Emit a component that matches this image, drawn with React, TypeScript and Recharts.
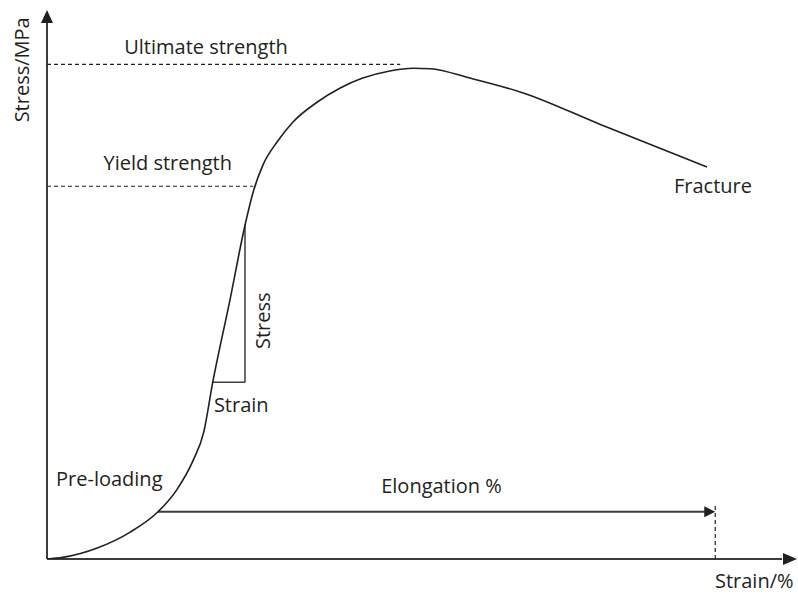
import React from 'react';
import { ComposedChart, Line, XAxis, YAxis, ReferenceLine, ReferenceDot } from 'recharts';

// stress-strain curve (arbitrary units 0-100 on both axes)
const strain = [0, 2.1, 6.7, 11.1, 14.8, 17.3, 19.5, 20.9, 22.1, 24.4, 26.4, 27.5, 28.8, 30.7, 32.8, 36.0, 39.1, 42.1, 45.7, 48.8, 51.1, 56.4, 63.5, 73.7, 88.0];
const stress = [0, 0.3, 2.0, 4.9, 8.6, 12.6, 18.0, 23.1, 32.2, 47.2, 60.8, 66.9, 71.8, 76.0, 79.6, 83.2, 85.8, 87.6, 88.9, 89.4, 89.3, 87.6, 84.9, 79.2, 71.4];

const ULTIMATE = 90.1;
const ULTIMATE_AT = 47.1;
const YIELD = 67.9;
const YIELD_AT = 27.5;
const SLOPE_TOP = { x: 26.4, y: 60.8 };
const SLOPE_BOTTOM = { x: 22.1, y: 32.2 };
const ELONGATION_Y = 8.6;
const ELONGATION_FROM = 14.8;
const ELONGATION_TO = 89.1;
const ELONGATION_MARK = 10.0;

const labels = [
  { text: 'Ultimate strength', x: 21.2, y: 92.0 },
  { text: 'Yield strength', x: 16.1, y: 70.9 },
  { text: 'Fracture', x: 88.8, y: 66.7 },
  { text: 'Stress', x: 29.7, y: 43.4, rotate: true },
  { text: 'Strain', x: 25.9, y: 26.8 },
  { text: 'Pre-loading', x: 8.3, y: 13.3 },
  { text: 'Elongation %', x: 52.6, y: 12.0 },
  { text: 'Strain/%', x: 94.3, y: -5.3 },
  { text: 'Stress/MPa', x: -2.4, y: 89.1, rotate: true },
];

const data = strain.map((s, i) => ({ strain: s, stress: stress[i] }));

const INK = '#231f20';
const AXIS = '#3c3c3c';
const FONT = '"Open Sans", sans-serif';

export default function App() {
  return (
    <div style={{ position: 'absolute', left: 0, top: 0, width: 798, height: 594, background: '#fff' }}>
      <ComposedChart width={798} height={594} data={data} margin={{ top: 10, right: 1, bottom: 35, left: 47 }}>
        <XAxis dataKey="strain" type="number" domain={[0, 100]} hide allowDataOverflow />
        <YAxis type="number" domain={[0, 100]} hide allowDataOverflow />

        {/* axes */}
        <ReferenceLine segment={[{ x: 0, y: 0 }, { x: 98, y: 0 }]} stroke={AXIS} strokeWidth={2} ifOverflow="visible" />
        <ReferenceLine segment={[{ x: 0, y: 0 }, { x: 0, y: 98 }]} stroke={AXIS} strokeWidth={2} ifOverflow="visible" />
        <ReferenceDot x={100} y={0} ifOverflow="visible" shape={(p: any) => (
          <polygon points={`${p.cx},${p.cy} ${p.cx - 14},${p.cy - 6} ${p.cx - 14},${p.cy + 6}`} fill={INK} />
        )} />
        <ReferenceDot x={0} y={100} ifOverflow="visible" shape={(p: any) => (
          <polygon points={`${p.cx},${p.cy} ${p.cx - 6},${p.cy + 13} ${p.cx + 6},${p.cy + 13}`} fill={INK} />
        )} />

        {/* dashed guides */}
        <ReferenceLine segment={[{ x: 0, y: ULTIMATE }, { x: ULTIMATE_AT, y: ULTIMATE }]} stroke={INK} strokeWidth={1.2} strokeDasharray="4 3" />
        <ReferenceLine segment={[{ x: 0, y: YIELD }, { x: YIELD_AT, y: YIELD }]} stroke={INK} strokeWidth={1.2} strokeDasharray="4 3" />
        <ReferenceLine segment={[{ x: ELONGATION_TO, y: 0 }, { x: ELONGATION_TO, y: ELONGATION_MARK }]} stroke={INK} strokeWidth={1.2} strokeDasharray="4 3" />

        {/* slope triangle */}
        <ReferenceLine segment={[{ x: SLOPE_TOP.x, y: SLOPE_TOP.y }, { x: SLOPE_TOP.x, y: SLOPE_BOTTOM.y }]} stroke={AXIS} strokeWidth={1.5} />
        <ReferenceLine segment={[{ x: SLOPE_BOTTOM.x, y: SLOPE_BOTTOM.y }, { x: SLOPE_TOP.x, y: SLOPE_BOTTOM.y }]} stroke={AXIS} strokeWidth={1.5} />

        {/* elongation arrow */}
        <ReferenceLine segment={[{ x: ELONGATION_FROM, y: ELONGATION_Y }, { x: ELONGATION_TO - 1, y: ELONGATION_Y }]} stroke={AXIS} strokeWidth={2} />
        <ReferenceDot x={ELONGATION_TO} y={ELONGATION_Y} shape={(p: any) => (
          <polygon points={`${p.cx},${p.cy} ${p.cx - 11},${p.cy - 5.5} ${p.cx - 11},${p.cy + 5.5}`} fill={INK} />
        )} />

        <Line dataKey="stress" type="monotone" stroke={INK} strokeWidth={1.6} dot={false} activeDot={false} isAnimationActive={false} />

        {labels.map((l) => (
          <ReferenceDot key={l.text} x={l.x} y={l.y} ifOverflow="visible" shape={(p: any) => (
            <text
              x={0}
              y={0}
              transform={`translate(${p.cx},${p.cy})${l.rotate ? ' rotate(-90)' : ''}`}
              textAnchor="middle"
              fontFamily={FONT}
              fontSize={20}
              fill={INK}
            >
              {l.text}
            </text>
          )} />
        ))}
      </ComposedChart>
    </div>
  );
}
